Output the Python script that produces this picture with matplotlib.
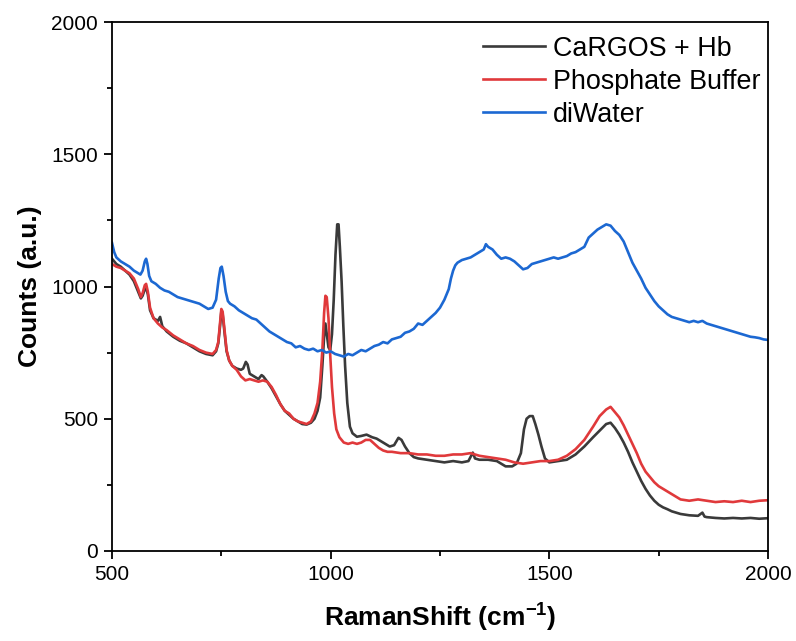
import matplotlib
matplotlib.use("Agg")
import matplotlib.pyplot as plt
from matplotlib.ticker import MultipleLocator

plt.rcParams['font.family'] = ['Liberation Sans', 'DejaVu Sans']
plt.rcParams['mathtext.fontset'] = 'custom'
plt.rcParams['mathtext.rm'] = 'Liberation Sans'
plt.rcParams['mathtext.bf'] = 'Liberation Sans:bold'

# ---- data ----
water_x = [500, 505, 510, 520, 530, 540, 550, 560, 565, 570, 575, 578, 581, 585, 590, 600, 610, 620, 630, 640,
           650, 660, 670, 680, 690, 700, 710, 720, 730, 738, 744, 748, 751, 755, 760, 765, 770, 780, 790, 800,
           810, 820, 830, 840, 850, 860, 870, 880, 890, 900, 910, 920, 930, 940, 950, 960, 970, 980, 990, 1000,
           1010, 1020, 1030, 1040, 1050, 1060, 1070, 1080, 1090, 1100, 1110, 1120, 1130, 1140, 1150, 1160, 1170,
           1180, 1190, 1200, 1210, 1220, 1230, 1240, 1250, 1260, 1270, 1275, 1280, 1285, 1290, 1300, 1310, 1320,
           1330, 1340, 1350, 1355, 1360, 1370, 1380, 1390, 1400, 1410, 1420, 1430, 1440, 1450, 1460, 1470, 1480,
           1490, 1500, 1510, 1520, 1530, 1540, 1550, 1560, 1570, 1580, 1590, 1600, 1610, 1620, 1630, 1640, 1650,
           1660, 1670, 1680, 1690, 1700, 1710, 1720, 1730, 1740, 1750, 1760, 1770, 1780, 1790, 1800, 1810, 1820,
           1830, 1840, 1850, 1860, 1870, 1880, 1890, 1900, 1910, 1920, 1930, 1940, 1950, 1960, 1970, 1980, 1990, 2000]
water_y = [1165, 1130, 1110, 1095, 1085, 1075, 1060, 1050, 1045, 1060, 1095, 1105, 1085, 1040, 1020, 1010, 995, 985, 980, 970,
           960, 955, 950, 945, 940, 935, 925, 915, 920, 950, 1030, 1070, 1075, 1040, 980, 945, 935, 925, 910, 900,
           890, 880, 875, 860, 845, 830, 820, 810, 800, 790, 785, 770, 775, 765, 760, 765, 755, 760, 750, 755,
           745, 740, 735, 745, 740, 750, 760, 755, 765, 775, 780, 790, 785, 800, 805, 810, 825,
           830, 840, 860, 855, 870, 885, 900, 920, 950, 990, 1030, 1060, 1080, 1090, 1100, 1105, 1110,
           1120, 1130, 1140, 1160, 1150, 1140, 1120, 1105, 1110, 1105, 1095, 1080, 1065, 1070, 1085, 1090, 1095,
           1100, 1105, 1110, 1105, 1110, 1115, 1125, 1130, 1140, 1150, 1185, 1200, 1215, 1225, 1235, 1230, 1210,
           1195, 1170, 1130, 1090, 1060, 1030, 995, 970, 945, 925, 910, 895, 885, 880, 875, 870, 865,
           870, 865, 870, 860, 855, 850, 845, 840, 835, 830, 825, 820, 815, 810, 808, 805, 800, 798]

buffer_x = [500, 510, 520, 530, 540, 550, 560, 566, 570, 575, 578, 582, 587, 595, 605, 615, 625, 640, 655, 670,
            685, 700, 715, 730, 738, 743, 747, 750, 753, 757, 762, 768, 775, 785, 795, 805, 815, 825, 835, 845,
            855, 865, 875, 885, 895, 905, 915, 925, 935, 945, 955, 963, 970, 976, 981, 985, 988, 991, 995, 999,
            1003, 1008, 1013, 1020, 1030, 1040, 1050, 1060, 1070, 1080, 1090, 1100, 1110, 1120, 1130, 1140, 1160,
            1180, 1200, 1220, 1240, 1260, 1280, 1300, 1320, 1340, 1360, 1380, 1400, 1420, 1440, 1460, 1480, 1500,
            1520, 1540, 1560, 1580, 1600, 1615, 1630, 1640, 1650, 1660, 1670, 1680, 1690, 1700, 1710, 1720, 1730,
            1740, 1750, 1760, 1770, 1780, 1790, 1800, 1820, 1840, 1860, 1880, 1900, 1920, 1940, 1960, 1980, 2000]
buffer_y = [1085, 1075, 1070, 1060, 1050, 1030, 990, 960, 975, 1005, 1010, 980, 920, 880, 860, 845, 835, 815, 800, 785,
            775, 760, 750, 745, 760, 790, 860, 915, 905, 840, 760, 720, 700, 685, 660, 645, 650, 645, 640, 645,
            640, 620, 590, 555, 530, 520, 500, 490, 485, 480, 490, 520, 560, 640, 760, 900, 965, 960, 880, 740,
            620, 520, 460, 430, 410, 405, 410, 405, 410, 420, 420, 405, 390, 380, 375, 375, 370,
            370, 365, 365, 360, 360, 365, 365, 370, 360, 355, 350, 345, 335, 330, 335, 340, 340,
            345, 360, 385, 420, 470, 510, 535, 545, 525, 505, 475, 440, 405, 370, 330, 300, 280,
            260, 245, 235, 225, 215, 205, 195, 190, 195, 190, 185, 188, 185, 190, 185, 190, 192]

hb_x = [500, 510, 520, 530, 540, 550, 560, 566, 570, 575, 578, 582, 587, 595, 605, 610, 615, 625, 640, 655,
        670, 685, 700, 715, 730, 738, 743, 747, 750, 753, 757, 762, 768, 775, 785, 795, 800, 806, 810, 815,
        825, 835, 842, 846, 855, 865, 875, 885, 895, 905, 915, 925, 935, 945, 955, 963, 970, 976, 981, 985,
        988, 991, 995, 999, 1003, 1007, 1011, 1015, 1018, 1021, 1025, 1029, 1033, 1038, 1044, 1050, 1060, 1070,
        1082, 1095, 1105, 1115, 1125, 1135, 1145, 1155, 1162, 1170, 1180, 1190, 1200, 1220, 1240, 1260, 1280,
        1300, 1315, 1325, 1330, 1340, 1360, 1380, 1400, 1415, 1425, 1435, 1442, 1448, 1455, 1462, 1468, 1475,
        1482, 1490, 1500, 1520, 1540, 1560, 1580, 1600, 1615, 1630, 1640, 1650, 1660, 1670, 1680, 1690, 1700,
        1710, 1720, 1730, 1740, 1750, 1760, 1770, 1780, 1800, 1820, 1840, 1850, 1855, 1860, 1880, 1900, 1920,
        1940, 1960, 1980, 2000]
hb_y = [1105, 1085, 1075, 1060, 1045, 1020, 980, 955, 965, 990, 995, 970, 910, 880, 870, 885, 850, 830, 810, 795,
        785, 770, 755, 745, 740, 755, 785, 850, 905, 895, 830, 755, 720, 700, 690, 685, 690, 715, 705, 670,
        660, 650, 665, 660, 640, 615, 585, 555, 530, 515, 500, 490, 480, 478, 485, 500, 530, 580, 700, 810,
        860, 820, 770, 760, 820, 950, 1120, 1235, 1235, 1150, 1020, 850, 700, 560, 470, 445, 432, 435,
        440, 430, 425, 415, 405, 395, 400, 428, 420, 395, 370, 355, 350, 345, 340, 335, 340,
        335, 340, 372, 350, 345, 345, 340, 320, 320, 330, 370, 460, 500, 510, 510, 480, 440,
        395, 350, 335, 340, 345, 365, 395, 430, 455, 480, 485, 465, 440, 410, 375, 335, 300,
        265, 235, 210, 190, 175, 165, 158, 150, 140, 135, 133, 145, 130, 128, 125, 123, 125,
        123, 125, 122, 124]

labels = ['CaRGOS + Hb', 'Phosphate Buffer', 'diWater']
colors = ['#3a3a3a', '#e0393b', '#1c68d2']

x_ticks = [500, 1000, 1500, 2000]
y_ticks = [0, 500, 1000, 1500, 2000]

# ---- figure ----
fig = plt.figure(figsize=(7.96, 6.41), dpi=100)
ax = fig.add_axes([112 / 796, 90 / 641, 656 / 796, 529 / 641])

ax.plot(hb_x, hb_y, color=colors[0], lw=1.9, label=labels[0])
ax.plot(buffer_x, buffer_y, color=colors[1], lw=1.9, label=labels[1])
ax.plot(water_x, water_y, color=colors[2], lw=1.9, label=labels[2])

ax.set_xlim(500, 2000)
ax.set_ylim(0, 2000)
ax.set_xticks(x_ticks)
ax.set_yticks(y_ticks)
ax.xaxis.set_minor_locator(MultipleLocator(250))
ax.yaxis.set_minor_locator(MultipleLocator(250))
ax.tick_params(which='major', direction='out', length=6, width=1.3, labelsize=15, pad=4)
ax.tick_params(which='minor', direction='out', length=3.5, width=1.3)
for s in ax.spines.values():
    s.set_linewidth(1.3)

ax.set_xlabel(r'RamanShift (cm$^{\mathbf{-1}}$)', fontsize=19, fontweight='bold', labelpad=12)
ax.set_ylabel('Counts (a.u.)', fontsize=19, fontweight='bold', labelpad=7)

leg = ax.legend(loc='upper right', bbox_to_anchor=(1.0 + 3 / 656, 1.0 - 3 / 529), frameon=False,
                fontsize=19.4, handlelength=2.3, handletextpad=0.3, labelspacing=0.26,
                borderaxespad=0.0)

fig.savefig('out.png', dpi=100)
